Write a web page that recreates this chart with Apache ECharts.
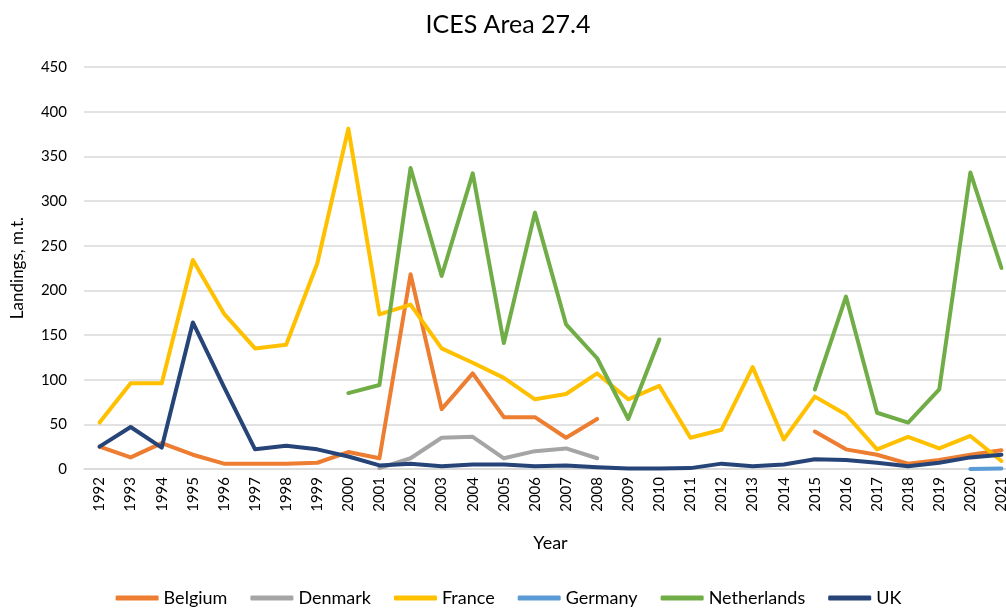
<!DOCTYPE html>
<html>
<head>
<meta charset="utf-8">
<script src="https://cdn.jsdelivr.net/npm/echarts@6/dist/echarts.min.js"></script>
<style>
  html, body { margin: 0; padding: 0; background: #fff; overflow: hidden; }
  /* wider than the window so the last category is cut at the right edge, as in the original */
  #chart { width: 1017px; height: 608px; }
</style>
</head>
<body>
<div id="chart"></div>
<script>
// years on the x axis
var years = ['1992', '1993', '1994', '1995', '1996', '1997', '1998', '1999', '2000', '2001',
  '2002', '2003', '2004', '2005', '2006', '2007', '2008', '2009', '2010', '2011',
  '2012', '2013', '2014', '2015', '2016', '2017', '2018', '2019', '2020', '2021'];

// landings per country (m.t.), null = no data
var belgium = [25, 13, 29, 16, 6, 6, 6, 7, 19, 12,
  218, 67, 107, 58, 58, 35, 56, null, null, null,
  null, null, null, 42, 22, 16, 6, 10, 16, 21];
var denmark = [null, null, null, null, null, null, null, null, null, 1,
  12, 35, 36, 12, 20, 23, 12, null, null, null,
  null, null, null, null, null, null, null, null, null, null];
var france = [52, 96, 96, 234, 174, 135, 139, 230, 381, 173,
  184, 135, 119, 102, 78, 84, 107, 78, 93, 35,
  44, 114, 33, 81, 61, 22, 36, 23, 37, 9];
var germany = [null, null, null, null, null, null, null, null, null, null,
  null, null, null, null, null, null, null, null, null, null,
  null, null, null, null, null, null, null, null, 0, 0.5];
var netherlands = [null, null, null, null, null, null, null, null, 85, 94,
  337, 216, 331, 141, 287, 162, 124, 56, 145, null,
  null, null, null, 89, 193, 63, 52, 89, 332, 225];
var uk = [25, 47, 24, 164, 92, 22, 26, 22, 14, 4,
  6, 3, 5, 5, 3, 4, 2, 0.5, 0.5, 1,
  6, 3, 5, 11, 10, 7, 3, 7, 13, 16];

var yTicks = [0, 50, 100, 150, 200, 250, 300, 350, 400, 450];

var fontName = 'Lato';

function makeSeries(name, data, color) {
  return {
    name: name,
    type: 'line',
    data: data,
    symbol: 'none',
    connectNulls: false,
    lineStyle: { color: color, width: 4, cap: 'round', join: 'round' },
    itemStyle: { color: color },
    emphasis: { disabled: true }
  };
}

var chart = echarts.init(document.getElementById('chart'), null, { renderer: 'canvas' });

var option = {
  animation: false,
  backgroundColor: '#ffffff',
  title: {
    text: 'ICES Area 27.4',
    left: 503,
    textAlign: 'center',
    top: 7,
    textStyle: { fontFamily: fontName, fontSize: 25, fontWeight: 'normal', color: '#000' }
  },
  legend: {
    top: 584,
    left: 'center',
    icon: 'roundRect',
    itemWidth: 43,
    itemHeight: 5,
    itemGap: 23,
    textStyle: { fontFamily: fontName, fontSize: 18, color: '#000' },
    data: ['Belgium', 'Denmark', 'France', 'Germany', 'Netherlands', 'UK']
  },
  grid: { left: 84, right: 0, top: 67, bottom: 139, containLabel: false },
  xAxis: {
    type: 'category',
    data: years,
    boundaryGap: true,
    name: 'Year',
    nameLocation: 'middle',
    nameGap: 65,
    nameTextStyle: { fontFamily: fontName, fontSize: 18, color: '#000' },
    axisLine: { lineStyle: { color: '#d9d9d9', width: 1.5 } },
    axisTick: { show: false },
    axisLabel: { rotate: 90, interval: 0, fontFamily: fontName, fontSize: 15, color: '#000', margin: 8 }
  },
  yAxis: {
    type: 'value',
    min: yTicks[0],
    max: yTicks[yTicks.length - 1],
    interval: 50,
    name: 'Landings, m.t.',
    nameLocation: 'middle',
    nameGap: 58,
    nameTextStyle: { fontFamily: fontName, fontSize: 17, color: '#000' },
    axisLine: { show: false },
    axisTick: { show: false },
    axisLabel: { fontFamily: fontName, fontSize: 15, color: '#000', margin: 17 },
    splitLine: { lineStyle: { color: '#d9d9d9', width: 1.5 } }
  },
  series: [
    makeSeries('Belgium', belgium, '#ED7D31'),
    makeSeries('Denmark', denmark, '#A5A5A5'),
    makeSeries('France', france, '#FFC000'),
    makeSeries('Germany', germany, '#5B9BD5'),
    makeSeries('Netherlands', netherlands, '#70AD47'),
    makeSeries('UK', uk, '#264478')
  ]
};

chart.setOption(option);
</script>
</body>
</html>
